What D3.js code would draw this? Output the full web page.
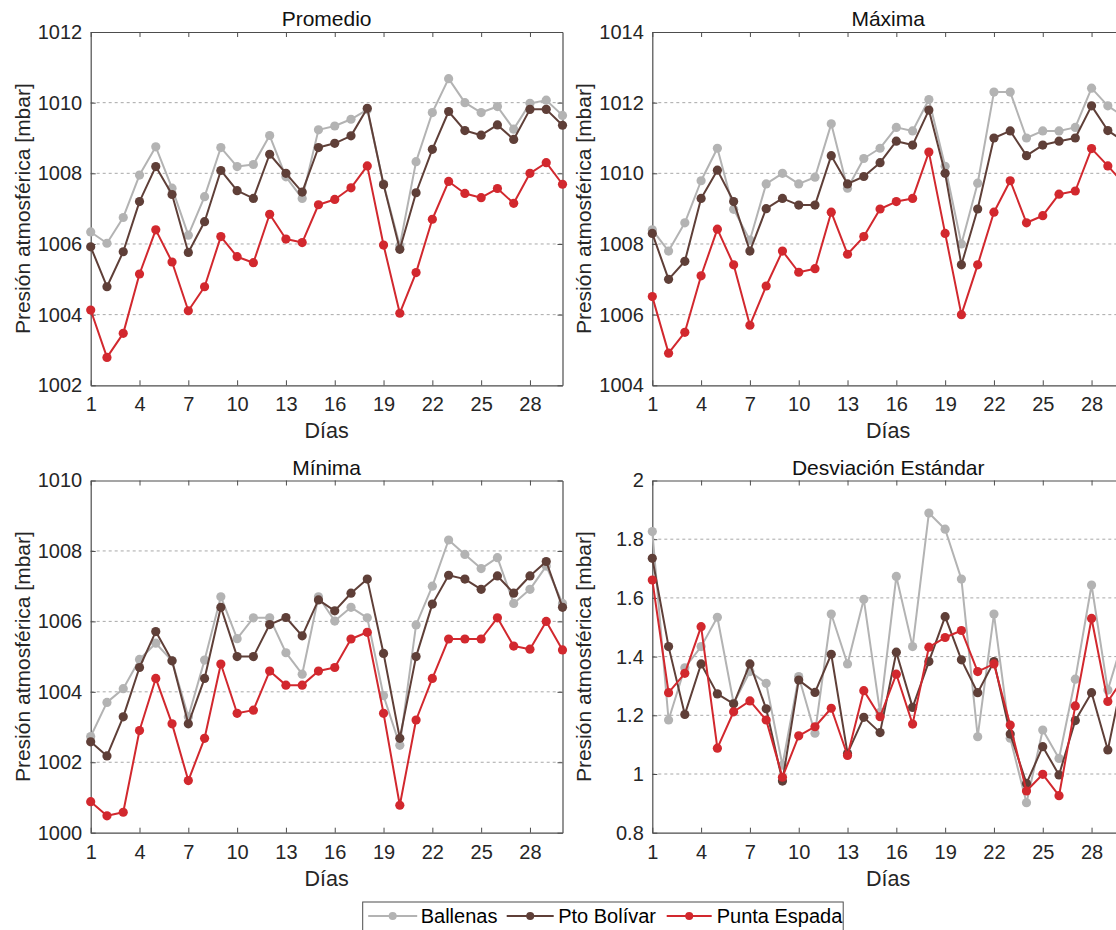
<!DOCTYPE html>
<html>
<head>
<meta charset="utf-8">
<script src="https://cdn.jsdelivr.net/npm/d3@7/dist/d3.min.js"></script>
<style>
  html, body { margin: 0; padding: 0; background: #fff; }
  svg { display: block; font-family: "Liberation Sans", Arial, sans-serif; }
</style>
</head>
<body>
<svg id="chart" width="1116" height="930"></svg>
<script>
// Días del mes
const dias = [1,2,3,4,5,6,7,8,9,10,11,12,13,14,15,16,17,18,19,20,21,22,23,24,25,26,27,28,29,30];
const diasTicks = [1,4,7,10,13,16,19,22,25,28];

const estaciones = ["Ballenas", "Pto Bolívar", "Punta Espada"];
const colores = ["#b3b3b3", "#5f3f38", "#d2282e"];

// Presión promedio [mbar]
const promedioBallenas = [1006.34,1006.02,1006.75,1007.95,1008.75,1007.58,1006.25,1007.34,1008.73,1008.19,1008.25,1009.07,1007.90,1007.29,1009.23,1009.34,1009.53,1009.80,1007.70,1005.95,1008.33,1009.72,1010.68,1010.00,1009.72,1009.89,1009.25,1009.98,1010.07,1009.64];
const promedioBolivar  = [1005.92,1004.79,1005.78,1007.20,1008.19,1007.40,1005.76,1006.63,1008.08,1007.51,1007.29,1008.54,1008.00,1007.47,1008.73,1008.85,1009.06,1009.84,1007.68,1005.85,1007.45,1008.68,1009.75,1009.21,1009.08,1009.37,1008.96,1009.81,1009.81,1009.36];
const promedioEspada   = [1004.13,1002.79,1003.47,1005.15,1006.40,1005.49,1004.11,1004.79,1006.21,1005.64,1005.47,1006.84,1006.14,1006.04,1007.11,1007.26,1007.59,1008.21,1005.97,1004.04,1005.19,1006.70,1007.77,1007.43,1007.31,1007.57,1007.15,1008.00,1008.30,1007.69];

// Presión máxima [mbar]
const maximaBallenas = [1008.40,1007.80,1008.60,1009.79,1010.71,1008.98,1008.11,1009.70,1010.00,1009.70,1009.89,1011.40,1009.58,1010.42,1010.71,1011.30,1011.20,1012.09,1010.20,1008.00,1009.72,1012.30,1012.30,1011.00,1011.20,1011.20,1011.30,1012.41,1011.91,1011.60];
const maximaBolivar  = [1008.30,1007.00,1007.51,1009.29,1010.09,1009.20,1007.80,1009.00,1009.29,1009.10,1009.10,1010.50,1009.70,1009.91,1010.30,1010.91,1010.80,1011.79,1010.00,1007.41,1008.99,1011.00,1011.20,1010.50,1010.80,1010.91,1011.00,1011.91,1011.21,1010.90];
const maximaEspada   = [1006.51,1004.91,1005.50,1007.10,1008.42,1007.41,1005.70,1006.81,1007.80,1007.20,1007.30,1008.90,1007.71,1008.21,1008.99,1009.20,1009.29,1010.60,1008.30,1006.00,1007.41,1008.90,1009.79,1008.60,1008.80,1009.41,1009.50,1010.70,1010.21,1009.70];

// Presión mínima [mbar]
const minimaBallenas = [1002.73,1003.70,1004.09,1004.92,1005.38,1004.88,1003.29,1004.90,1006.70,1005.51,1006.10,1006.10,1005.11,1004.50,1006.70,1006.01,1006.40,1006.10,1003.89,1002.48,1005.90,1007.00,1008.31,1007.90,1007.50,1007.81,1006.51,1006.91,1007.57,1006.51];
const minimaBolivar  = [1002.58,1002.18,1003.29,1004.69,1005.71,1004.88,1003.09,1004.38,1006.40,1005.00,1005.00,1005.91,1006.11,1005.59,1006.61,1006.30,1006.80,1007.20,1005.09,1002.68,1005.00,1006.49,1007.31,1007.20,1006.91,1007.29,1006.80,1007.29,1007.70,1006.40];
const minimaEspada   = [1000.88,1000.48,1000.58,1002.90,1004.38,1003.09,1001.48,1002.68,1004.79,1003.39,1003.48,1004.59,1004.19,1004.19,1004.59,1004.69,1005.50,1005.69,1003.39,1000.78,1003.20,1004.38,1005.50,1005.50,1005.50,1006.10,1005.30,1005.21,1006.00,1005.19];

// Desviación estándar [mbar]
const desvBallenas = [1.826,1.184,1.362,1.434,1.534,1.241,1.349,1.309,1.030,1.332,1.139,1.545,1.375,1.595,1.210,1.673,1.434,1.889,1.834,1.664,1.127,1.545,1.122,0.902,1.150,1.053,1.323,1.644,1.286,1.470];
const desvBolivar  = [1.735,1.434,1.203,1.375,1.273,1.239,1.375,1.222,0.976,1.320,1.278,1.408,1.070,1.193,1.141,1.415,1.227,1.383,1.536,1.389,1.277,1.383,1.136,0.968,1.093,0.997,1.182,1.277,1.082,1.350];
const desvEspada   = [1.661,1.277,1.343,1.502,1.088,1.212,1.249,1.184,0.989,1.130,1.161,1.224,1.063,1.284,1.195,1.340,1.170,1.432,1.465,1.489,1.349,1.375,1.167,0.942,0.999,0.926,1.232,1.530,1.247,1.330];

// Ejes verticales
const ticksPromedio = [1002,1004,1006,1008,1010,1012];
const ticksMaxima   = [1004,1006,1008,1010,1012,1014];
const ticksMinima   = [1000,1002,1004,1006,1008,1010];
const ticksDesv     = [0.8,1,1.2,1.4,1.6,1.8,2];

const titulos = ["Promedio", "Máxima", "Mínima", "Desviación Estándar"];
const etiquetaY = "Presión atmosférica [mbar]";
const etiquetaX = "Días";

const paneles = [
  { titulo: titulos[0], series: [promedioBallenas, promedioBolivar, promedioEspada], ticks: ticksPromedio, x0: 90.7,  y0: 32.0,  w: 471.8, h: 353.3 },
  { titulo: titulos[1], series: [maximaBallenas,   maximaBolivar,   maximaEspada],   ticks: ticksMaxima,   x0: 652.3, y0: 32.0,  w: 471.8, h: 353.3 },
  { titulo: titulos[2], series: [minimaBallenas,   minimaBolivar,   minimaEspada],   ticks: ticksMinima,   x0: 90.7,  y0: 480.5, w: 471.8, h: 352.2 },
  { titulo: titulos[3], series: [desvBallenas,     desvBolivar,     desvEspada],     ticks: ticksDesv,     x0: 652.3, y0: 480.5, w: 471.8, h: 352.2 }
];

const svg = d3.select("#chart");
const ejeColor = "#4d4d4d";
const textoColor = "#262626";

paneles.forEach(p => {
  const g = svg.append("g").attr("transform", `translate(${p.x0},${p.y0})`);
  const x = d3.scaleLinear().domain([1, 30]).range([0, p.w]);
  const y = d3.scaleLinear().domain([p.ticks[0], p.ticks[p.ticks.length - 1]]).range([p.h, 0]);

  // Líneas de cuadrícula horizontales
  g.append("g").selectAll("line")
    .data(p.ticks.slice(1, -1))
    .join("line")
    .attr("x1", 0).attr("x2", p.w)
    .attr("y1", d => y(d)).attr("y2", d => y(d))
    .attr("stroke", "#a8a8a8").attr("stroke-width", 1)
    .attr("stroke-dasharray", "3,3");

  // Ejes (ticks hacia adentro)
  const ejeInf = g.append("g").attr("transform", `translate(0,${p.h})`)
    .call(d3.axisBottom(x).tickValues(diasTicks).tickSizeInner(-5).tickSizeOuter(0).tickPadding(12));
  const ejeSup = g.append("g")
    .call(d3.axisTop(x).tickValues(diasTicks).tickSizeInner(-5).tickSizeOuter(0).tickFormat(""));
  const ejeIzq = g.append("g")
    .call(d3.axisLeft(y).tickValues(p.ticks).tickSizeInner(-5).tickSizeOuter(0).tickPadding(8.5).tickFormat(d => String(d)));
  const ejeDer = g.append("g").attr("transform", `translate(${p.w},0)`)
    .call(d3.axisRight(y).tickValues(p.ticks).tickSizeInner(-5).tickSizeOuter(0).tickFormat(""));

  [ejeInf, ejeSup, ejeIzq, ejeDer].forEach(a => {
    a.select(".domain").attr("stroke", ejeColor).attr("stroke-width", 1.2);
    a.selectAll(".tick line").attr("stroke", ejeColor).attr("stroke-width", 1);
    a.selectAll("text").attr("fill", textoColor).style("font-size", "20px")
      .style("font-family", '"Liberation Sans", Arial, sans-serif');
  });
  ejeInf.selectAll("text").attr("dy", "0.71em");

  // Series
  const linea = d3.line().x((d, i) => x(dias[i])).y(d => y(d));
  p.series.forEach((serie, k) => {
    g.append("path").datum(serie)
      .attr("d", linea)
      .attr("fill", "none")
      .attr("stroke", colores[k])
      .attr("stroke-width", 2)
      .attr("stroke-linejoin", "round");
    g.append("g").selectAll("circle")
      .data(serie)
      .join("circle")
      .attr("cx", (d, i) => x(dias[i]))
      .attr("cy", d => y(d))
      .attr("r", 4.6)
      .attr("fill", colores[k]);
  });

  // Título
  g.append("text")
    .attr("x", p.w / 2).attr("y", -6)
    .attr("text-anchor", "middle")
    .attr("fill", "#111")
    .style("font-size", "21px")
    .text(p.titulo);

  // Etiqueta eje X
  g.append("text")
    .attr("x", p.w / 2).attr("y", p.h + 53)
    .attr("text-anchor", "middle")
    .attr("fill", textoColor)
    .style("font-size", "21.5px")
    .text(etiquetaX);

  // Etiqueta eje Y
  g.append("text")
    .attr("transform", `translate(-61,${p.h / 2}) rotate(-90)`)
    .attr("text-anchor", "middle")
    .attr("fill", textoColor)
    .style("font-size", "21px")
    .text(etiquetaY);
});

// Leyenda
const leyenda = svg.append("g").attr("transform", "translate(362.7,902)");
leyenda.append("rect")
  .attr("x", 0).attr("y", 0).attr("width", 480.5).attr("height", 40)
  .attr("fill", "#fff").attr("stroke", ejeColor).attr("stroke-width", 1);
const posLeyenda = [
  { l0: 5.5,  l1: 54.5,  t: 58 },
  { l0: 144,  l1: 191,   t: 195.5 },
  { l0: 304,  l1: 349,   t: 354 }
];
estaciones.forEach((nombre, k) => {
  const p = posLeyenda[k];
  leyenda.append("line")
    .attr("x1", p.l0).attr("x2", p.l1).attr("y1", 14).attr("y2", 14)
    .attr("stroke", colores[k]).attr("stroke-width", 2);
  leyenda.append("circle")
    .attr("cx", (p.l0 + p.l1) / 2).attr("cy", 14).attr("r", 4)
    .attr("fill", colores[k]);
  leyenda.append("text")
    .attr("x", p.t).attr("y", 21)
    .attr("fill", "#000")
    .style("font-size", "20px")
    .text(nombre);
});
</script>
</body>
</html>
